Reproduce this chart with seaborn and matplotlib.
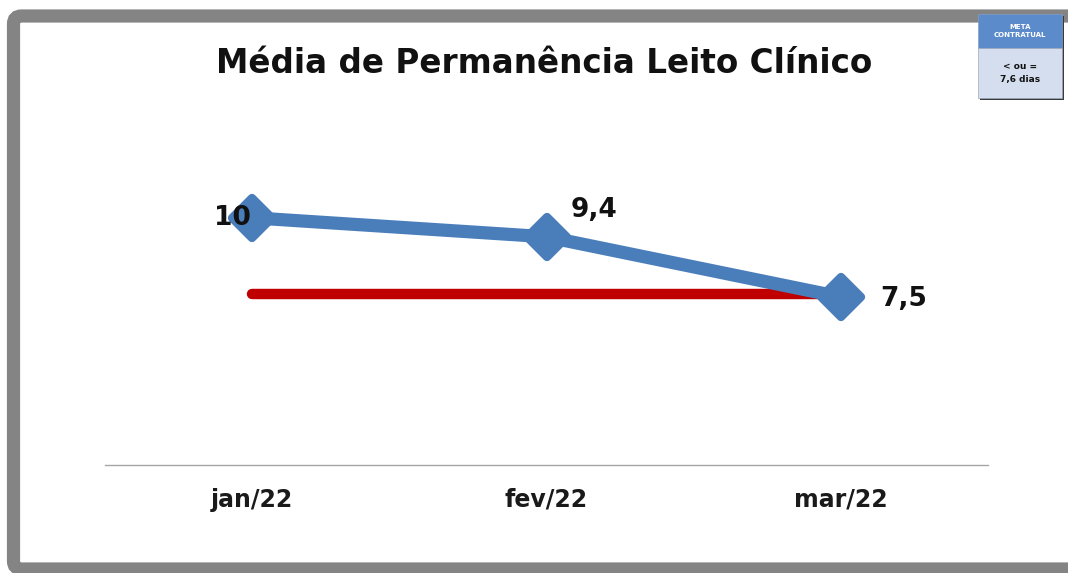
"""Média de permanência - leito clínico (jan-mar/22)."""
import numpy as np
import pandas as pd
import matplotlib
matplotlib.use("Agg")
import matplotlib.pyplot as plt
from matplotlib.markers import MarkerStyle
from matplotlib.patches import Rectangle, FancyBboxPatch
import seaborn as sns

meses = ["jan/22", "fev/22", "mar/22"]
media = [10.0, 9.4, 7.5]
rotulos = ["10", "9,4", "7,5"]
meta = [7.6, 7.6, 7.6]
titulo = "Média de Permanência Leito Clínico"

W, H = 1068, 573
sns.set_theme(style="white")
plt.rcParams["font.family"] = ["DejaVu Sans"]

df = pd.DataFrame({"pos": np.arange(len(meses)), "mes": meses,
                   "media": media, "meta": meta})

fig = plt.figure(figsize=(W / 100, H / 100), dpi=100)
fig.patch.set_facecolor("white")

# helper to convert pixel coords (top-left origin) to figure fraction
def fx(x):
    return x / W

def fy(y):
    return 1 - y / H

# overlay for frame and meta box
deco = fig.add_axes([0, 0, 1, 1], zorder=0)
deco.set_xlim(0, W)
deco.set_ylim(H, 0)
deco.axis("off")
deco.add_patch(FancyBboxPatch((13.5, 16), 1100, 553, boxstyle="round,pad=0,rounding_size=8",
                              fc="white", ec="#848484", lw=9.5))

# main plot
ax = fig.add_axes([fx(105), fy(465), fx(988) - fx(105), fy(110) - fy(465)], zorder=1)
ax.patch.set_alpha(0)
sns.lineplot(data=df, x="pos", y="meta", ax=ax, color="#C00000", linewidth=7.5,
             solid_capstyle="round", zorder=2)
sns.lineplot(data=df, x="pos", y="media", ax=ax, color="#4A7EBB", linewidth=9.5,
             marker=MarkerStyle("D", joinstyle="round"), markersize=20,
             markeredgewidth=6, markeredgecolor="#4A7EBB", zorder=3)

ax.set_xlim(-0.5, len(meses) - 0.5)
ax.set_ylim(2.2, 13.4)
ax.set_xticks(df["pos"])
ax.set_xticklabels(meses, fontsize=17, fontweight="bold", color="#1a1a1a")
ax.set_yticks([])
ax.tick_params(axis="x", length=0, pad=16.5)
ax.set_xlabel("")
ax.set_ylabel("")
for s in ["top", "left", "right"]:
    ax.spines[s].set_visible(False)
ax.spines["bottom"].set_color("#A6A6A6")
ax.spines["bottom"].set_linewidth(1)

# data labels (offsets in points)
offsets = [(-14, 0), (34, 19), (45, -1.5)]
for i, (v, lab) in enumerate(zip(media, rotulos)):
    ax.annotate(lab, (i, v), xytext=offsets[i], textcoords="offset points",
                ha="center", va="center", fontsize=19, fontweight="bold",
                color="#111111", zorder=5)

fig.text(fx(544), fy(63), titulo, ha="center", va="center", fontsize=23.5,
         fontweight="bold", color="#111111")

# meta box top-right
deco.add_patch(Rectangle((980, 16), 84, 84, fc="#3a3a3a", ec="none"))
deco.add_patch(Rectangle((978, 14), 84, 34, fc="#5B8BCB", ec="#7f9fc8", lw=0.5))
deco.add_patch(Rectangle((978, 48), 84, 50, fc="#D5DEEE", ec="#9aa8bd", lw=0.5))
deco.text(1020, 31, "META\nCONTRATUAL", ha="center", va="center", fontsize=5,
          fontweight="bold", color="white", linespacing=1.3)
deco.text(1020, 73, "< ou =\n7,6 dias", ha="center", va="center", fontsize=6.5,
          fontweight="bold", color="#111111", linespacing=1.5)

fig.savefig("out.png", dpi=100, facecolor="white")
